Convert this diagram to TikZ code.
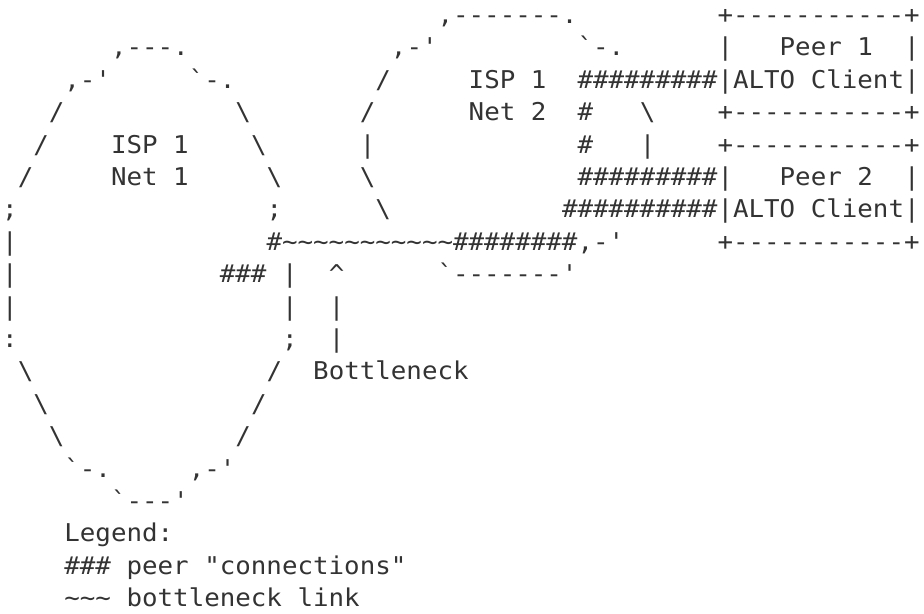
\documentclass[tikz,border=0pt]{standalone}
\usepackage{fontspec}
\setmonofont[FakeStretch=1.054]{DejaVu Sans Mono}
\usepackage{xcolor}
\usepackage{tikz}
\definecolor{asciigray}{HTML}{333333}

\begin{document}
\begin{tikzpicture}[
    x=7.775pt, y=16.2pt,
    ascii/.style={anchor=base west, inner sep=0pt, outer sep=0pt, text=asciigray, font=\ttfamily\fontsize{12.25}{14}\selectfont}
]
\useasboundingbox (-1.1pt,-311.45pt) rectangle (460.9pt,-4.45pt);

\node[ascii] (netB-top) at (28,-1) {,-------.};
\node[ascii] (peerA-top) at (46,-1) {+-----------+};

\node[ascii] (netA-top) at (7,-2) {,---.};
\node[ascii] (netB-nw) at (25,-2) {,-'};
\node[ascii] (netB-ne) at (37,-2) {`-.};
\node[ascii] (peerA-name) at (46,-2) {|\ \ \ Peer 1\ \ |};

\node[ascii] (netA-nw) at (4,-3) {,-'};
\node[ascii] (netA-ne) at (12,-3) {`-.};
\node[ascii] (netB-w1) at (24,-3) {/};
\node[ascii] (netB-isp) at (30,-3) {ISP 1};
\node[ascii] (connA-top) at (37,-3) {\#\#\#\#\#\#\#\#\#};
\node[ascii] (peerA-client) at (46,-3) {|ALTO Client|};

\node[ascii] (netA-w1) at (3,-4) {/};
\node[ascii] (netA-e1) at (15,-4) {\textbackslash};
\node[ascii] (netB-w2) at (23,-4) {/};
\node[ascii] (netB-net) at (30,-4) {Net 2};
\node[ascii] (connA-v1) at (37,-4) {\#};
\node[ascii] (netB-e1) at (41,-4) {\textbackslash};
\node[ascii] (peerA-bottom) at (46,-4) {+-----------+};

\node[ascii] (netA-w2) at (2,-5) {/};
\node[ascii] (netA-isp) at (7,-5) {ISP 1};
\node[ascii] (netA-e2) at (16,-5) {\textbackslash};
\node[ascii] (netB-w3) at (23,-5) {|};
\node[ascii] (connA-v2) at (37,-5) {\#};
\node[ascii] (netB-e2) at (41,-5) {|};
\node[ascii] (peerB-top) at (46,-5) {+-----------+};

\node[ascii] (netA-w3) at (1,-6) {/};
\node[ascii] (netA-net) at (7,-6) {Net 1};
\node[ascii] (netA-e3) at (17,-6) {\textbackslash};
\node[ascii] (netB-w4) at (23,-6) {\textbackslash};
\node[ascii] (connA-bottom) at (37,-6) {\#\#\#\#\#\#\#\#\#};
\node[ascii] (peerB-name) at (46,-6) {|\ \ \ Peer 2\ \ |};

\node[ascii] (netA-w4) at (0,-7) {;};
\node[ascii] (netA-e4) at (17,-7) {;};
\node[ascii] (netB-w5) at (24,-7) {\textbackslash};
\node[ascii] (connB) at (36,-7) {\#\#\#\#\#\#\#\#\#\#};
\node[ascii] (peerB-client) at (46,-7) {|ALTO Client|};

\node[ascii] (netA-w5) at (0,-8) {|};
\node[ascii] (link) at (17,-8) {\#\detokenize{~~~~~~~~~~~}\#\#\#\#\#\#\#\#};
\node[ascii] (netB-se) at (37,-8) {,-'};
\node[ascii] (peerB-bottom) at (46,-8) {+-----------+};

\node[ascii] (netA-w6) at (0,-9) {|};
\node[ascii] (connC) at (14,-9) {\#\#\#};
\node[ascii] (netA-e5) at (18,-9) {|};
\node[ascii] (pointer-tip) at (21,-9) {\textasciicircum};
\node[ascii] (netB-bottom) at (28,-9) {`-------'};

\node[ascii] (netA-w7) at (0,-10) {|};
\node[ascii] (netA-e6) at (18,-10) {|};
\node[ascii] (pointer-v1) at (21,-10) {|};

\node[ascii] (netA-w8) at (0,-11) {:};
\node[ascii] (netA-e7) at (18,-11) {;};
\node[ascii] (pointer-v2) at (21,-11) {|};

\node[ascii] (netA-sw1) at (1,-12) {\textbackslash};
\node[ascii] (netA-se1) at (17,-12) {/};
\node[ascii] (bottleneck) at (20,-12) {Bottleneck};

\node[ascii] (netA-sw2) at (2,-13) {\textbackslash};
\node[ascii] (netA-se2) at (16,-13) {/};

\node[ascii] (netA-sw3) at (3,-14) {\textbackslash};
\node[ascii] (netA-se3) at (15,-14) {/};

\node[ascii] (netA-sw4) at (4,-15) {`-.};
\node[ascii] (netA-se4) at (12,-15) {,-'};

\node[ascii] (netA-bottom) at (7,-16) {`---'};

\node[ascii] (legend) at (4,-17) {Legend:};
\node[ascii] (legend-conn) at (4,-18) {\#\#\# peer "connections"};
\node[ascii] (legend-link) at (4,-19) {\detokenize{~~~} bottleneck link};
\end{tikzpicture}
\end{document}
